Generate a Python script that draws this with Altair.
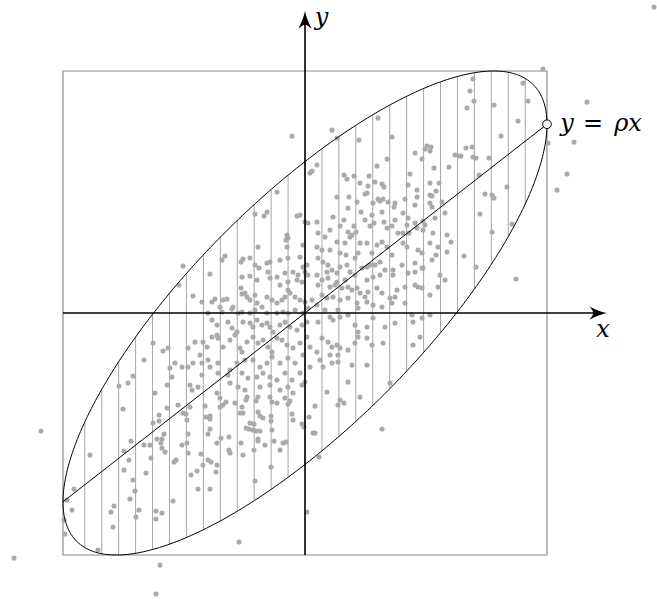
import altair as alt
import numpy as np
import pandas as pd

# Correlation of the bivariate sample and half-width of the framing square
RHO = 0.78
HALF = 2.42
HATCH_STEP = 0.07 * HALF
HATCH_COUNT = 13
ARROW_TIP = 3.02

# Sample points, grouped by area of the plane
north = [
    (0.05, 1.40), (0.07, 1.42), (-0.28, 1.21), (0.27, 1.83), (0.32, 1.75), (0.12, 1.48),
    (0.73, 1.95), (0.54, 1.73), (0.87, 1.76), (0.82, 1.54), (0.72, 1.47), (1.10, 1.60),
    (1.22, 1.67), (1.26, 1.66), (1.25, 1.62), (1.20, 1.64), (1.17, 1.54), (1.29, 1.45),
    (1.44, 1.46), (1.50, 1.58), (1.54, 1.57), (1.05, 1.39), (0.39, 1.38), (0.42, 1.34),
    (0.49, 1.37), (0.64, 1.37), (0.55, 1.30), (0.70, 1.31), (0.63, 1.27), (0.77, 1.29),
    (0.79, 1.26), (1.03, 1.28), (1.12, 1.23), (1.25, 1.30), (1.34, 1.30), (1.31, 1.22),
    (1.25, 1.18), (1.27, 1.17), (0.60, 1.19), (0.62, 1.20), (0.32, 1.16), (0.44, 1.16),
    (0.73, 1.14), (0.78, 1.14), (1.00, 1.14), (1.12, 1.16),
]
north_east = [
    (1.68, 2.34), (2.18, 2.30), (1.65, 2.22), (1.69, 2.12), (2.23, 2.12), (1.62, 2.05),
    (1.89, 2.08), (2.13, 1.92), (1.96, 1.77), (1.61, 1.65), (1.67, 1.66), (1.56, 1.57),
    (1.68, 1.56), (1.71, 1.55), (1.84, 1.55), (1.74, 1.38), (2.02, 1.26), (1.80, 1.19),
    (1.87, 1.18), (1.89, 1.15), (1.75, 0.99), (1.87, 0.81), (2.07, 0.89), (1.59, 0.57),
    (1.71, 0.46),
]
inner_ne = [
    (0.52, 1.11), (0.75, 1.12), (0.83, 1.11), (0.90, 1.10), (0.68, 1.10), (1.10, 1.08),
    (1.25, 1.10), (1.37, 1.11), (1.27, 1.06), (0.89, 1.06), (0.43, 1.05), (0.12, 0.91),
    (0.28, 0.96), (0.56, 1.01), (0.67, 0.98), (0.77, 1.01), (0.98, 1.00), (0.90, 0.93),
    (0.79, 0.91), (0.60, 0.93), (0.39, 0.93), (1.03, 0.95), (1.10, 0.90), (1.18, 0.92),
    (1.30, 0.95), (1.40, 1.00), (0.25, 0.83), (0.35, 0.87), (0.43, 0.81), (0.49, 0.87),
    (0.51, 0.81), (0.65, 0.87), (0.69, 0.90), (0.82, 0.85), (0.87, 0.87), (0.93, 0.80),
    (0.98, 0.80), (1.02, 0.88), (1.04, 0.80), (1.12, 0.85), (1.18, 0.83), (1.20, 0.88),
    (1.42, 0.78), (1.46, 0.71), (1.28, 0.80), (0.13, 0.80), (0.20, 0.76), (0.12, 0.66),
    (0.17, 0.63), (0.25, 0.63), (0.32, 0.71), (0.40, 0.70), (0.45, 0.76), (0.47, 0.78),
    (0.55, 0.70), (0.62, 0.70), (0.72, 0.68), (0.77, 0.71), (0.82, 0.66), (0.98, 0.70),
    (1.02, 0.66), (1.13, 0.63), (1.17, 0.60), (1.25, 0.70), (1.33, 0.66), (1.42, 0.61),
    (0.35, 0.60), (0.41, 0.58), (0.53, 0.60), (0.67, 0.60), (0.50, 0.55), (1.10, 0.50),
    (1.18, 0.45), (1.27, 0.53), (1.31, 0.58), (0.87, 0.58), (0.97, 0.48), (0.13, 0.55),
    (0.18, 0.51), (0.23, 0.48), (0.27, 0.43), (0.32, 0.40), (0.22, 0.41), (0.35, 0.46),
    (0.42, 0.48), (0.45, 0.41), (0.50, 0.38), (0.57, 0.45), (0.62, 0.46), (0.65, 0.48),
    (0.70, 0.48), (0.75, 0.51), (0.80, 0.43), (0.88, 0.43), (0.88, 0.38), (0.75, 0.38),
    (0.68, 0.36), (0.62, 0.33), (0.40, 0.33), (0.32, 0.31), (0.23, 0.35), (0.17, 0.33),
    (0.12, 0.38), (1.03, 0.40), (1.10, 0.41), (1.17, 0.45), (1.35, 0.38), (1.40, 0.33),
    (0.13, 0.28), (0.25, 0.26), (0.30, 0.28), (0.37, 0.25), (0.43, 0.26), (0.47, 0.23),
    (0.52, 0.25), (0.55, 0.20), (0.60, 0.16), (0.63, 0.21), (0.72, 0.25), (0.77, 0.20),
    (0.85, 0.15), (0.90, 0.16), (0.92, 0.23), (1.00, 0.26), (1.10, 0.28), (1.13, 0.26),
    (1.17, 0.25), (1.25, 0.18), (1.33, 0.26), (0.17, 0.18), (0.22, 0.15), (0.28, 0.16),
    (0.35, 0.13), (0.43, 0.15), (0.52, 0.10), (0.62, 0.11), (0.68, 0.08), (0.77, 0.06),
    (0.87, 0.10), (1.00, 0.10), (0.53, 0.05), (0.33, 0.03), (0.20, 0.03), (0.12, 0.08),
]
inner_se = [
    (0.13, -0.09), (0.25, -0.04), (0.28, -0.07), (0.35, -0.04), (0.43, -0.02), (0.50, -0.12),
    (0.53, -0.19), (0.62, -0.14), (0.68, -0.05), (0.80, -0.14), (0.90, -0.10), (1.07, -0.02),
    (1.08, -0.09), (1.17, -0.05), (1.25, -0.02), (1.15, -0.24), (0.17, -0.25), (0.23, -0.29),
    (0.27, -0.34), (0.32, -0.32), (0.35, -0.35), (0.25, -0.42), (0.33, -0.42), (0.43, -0.37),
    (0.50, -0.30), (0.53, -0.24), (0.62, -0.25), (0.67, -0.32), (0.78, -0.30), (1.08, -0.32),
    (0.15, -0.47), (0.18, -0.54), (0.27, -0.50), (0.33, -0.49), (0.47, -0.52), (0.62, -0.52),
    (0.12, -0.39), (0.43, -0.69), (0.85, -0.70), (0.22, -0.79), (0.55, -0.84), (0.35, -0.87),
    (0.10, -0.93), (0.10, -1.20), (0.33, -0.92), (0.39, -0.90), (0.14, -1.44),
]
inner_nw = [
    (-0.50, 0.99), (-0.41, 0.97), (-0.38, 1.01), (-0.08, 0.97), (-0.05, 0.98), (0.00, 0.91),
    (0.03, 0.90), (-0.18, 0.78), (-0.19, 0.73), (-0.17, 0.75), (-0.02, 0.68), (-0.47, 0.66),
    (-0.18, 0.66), (-1.22, 0.47), (-0.83, 0.53), (-0.80, 0.57), (-0.62, 0.54), (-0.64, 0.51),
    (-0.55, 0.55), (-0.50, 0.48), (-0.46, 0.45), (-0.38, 0.50), (-0.35, 0.51), (-0.25, 0.53),
    (-0.17, 0.55), (-0.05, 0.56), (-0.02, 0.46), (0.02, 0.48), (-0.95, 0.39), (-0.63, 0.36),
    (-0.55, 0.37), (-0.48, 0.33), (-0.37, 0.41), (-0.35, 0.35), (-0.28, 0.36), (-0.20, 0.40),
    (-0.12, 0.41), (-0.07, 0.38), (0.00, 0.41), (-0.25, 0.28), (-0.17, 0.31), (-0.08, 0.33),
    (-0.03, 0.31), (0.03, 0.38), (-1.26, 0.28), (-0.64, 0.25), (-0.60, 0.20), (-1.12, 0.17),
    (-1.03, 0.11), (-0.93, 0.11), (-0.90, 0.14), (-0.82, 0.13), (-0.78, 0.14), (-0.85, 0.06),
    (-0.72, 0.06), (-0.63, 0.19), (-0.58, 0.16), (-0.55, 0.13), (-0.50, 0.18), (-0.48, 0.10),
    (-0.43, 0.06), (-0.38, 0.16), (-0.33, 0.13), (-0.28, 0.10), (-0.23, 0.13), (-0.20, 0.16),
    (-0.17, 0.23), (-0.15, 0.20), (-0.10, 0.16), (-0.05, 0.13), (0.00, 0.11), (0.07, 0.13),
    (-0.97, 0.00), (-0.83, 0.01), (-0.73, 0.04), (-0.67, 0.00), (-0.63, 0.01), (-0.55, 0.00),
    (-0.50, 0.03), (-0.38, 0.00), (-0.28, 0.00), (-0.22, 0.01), (-0.17, 0.00), (-0.10, 0.03),
    (-0.02, 0.00), (0.03, 0.05),
]
inner_sw = [
    (-0.93, -0.07), (-0.88, -0.12), (-0.77, -0.09), (-0.73, -0.15), (-0.68, -0.19), (-0.62, -0.09),
    (-0.55, -0.10), (-0.52, -0.14), (-0.48, -0.07), (-0.43, -0.12), (-0.38, -0.10), (-0.35, -0.14),
    (-0.32, -0.19), (-0.25, -0.12), (-0.20, -0.09), (-0.15, -0.14), (-0.08, -0.17), (-0.03, -0.12),
    (0.02, -0.09), (-1.10, -0.29), (-1.02, -0.29), (-0.98, -0.34), (-0.93, -0.24), (-0.88, -0.22),
    (-0.87, -0.25), (-0.82, -0.34), (-0.75, -0.27), (-0.70, -0.22), (-0.65, -0.35), (-0.63, -0.39),
    (-0.58, -0.29), (-0.52, -0.24), (-0.47, -0.30), (-0.42, -0.27), (-0.37, -0.34), (-0.33, -0.39),
    (-0.28, -0.25), (-0.23, -0.27), (-0.18, -0.32), (-0.12, -0.35), (-0.05, -0.30), (0.02, -0.24),
    (0.05, -0.34), (-1.05, -0.42), (-1.17, -0.35), (-1.30, -0.50), (-1.23, -0.54), (-1.17, -0.54),
    (-1.12, -0.50), (-1.03, -0.50), (-0.97, -0.47), (-0.95, -0.54), (-0.87, -0.50), (-0.75, -0.57),
    (-0.68, -0.50), (-0.60, -0.47), (-0.52, -0.47), (-0.45, -0.54), (-0.38, -0.50), (-0.33, -0.44),
    (-0.25, -0.50), (-0.17, -0.45), (-0.10, -0.50), (-0.02, -0.42), (0.05, -0.54), (-1.33, -0.64),
    (-1.03, -0.62), (-0.87, -0.60), (-0.77, -0.62), (-0.63, -0.60), (-0.57, -0.65), (-0.48, -0.64),
    (-0.42, -0.60), (-0.35, -0.64), (-0.28, -0.67), (-0.20, -0.60), (-0.13, -0.67), (-0.05, -0.60),
    (0.00, -0.69), (-1.15, -0.72), (-1.13, -0.77), (-1.07, -0.74), (-0.75, -0.70), (-0.67, -0.74),
    (-0.60, -0.77), (-0.45, -0.74), (-0.35, -0.72), (-0.25, -0.77), (-0.17, -0.74), (-0.03, -0.72),
    (-0.88, -0.80), (-0.85, -0.85), (-0.58, -0.84), (-0.47, -0.84), (-0.35, -0.84), (-0.20, -0.85),
    (-0.12, -0.80),
]
south_west = [
    (-1.52, -0.30), (-1.61, -0.47), (-1.42, -0.38), (-1.37, -0.35), (-1.72, -0.63), (-1.77, -0.70),
    (-1.86, -0.73), (-1.50, -0.80), (-1.38, -0.72), (-1.35, -0.55), (-1.82, -0.96), (-1.38, -0.95),
    (-1.46, -1.02), (-1.52, -1.10), (-1.46, -1.08), (-1.41, -1.21), (-1.48, -1.26), (-1.43, -1.26),
    (-1.44, -1.30), (-1.43, -1.35), (-1.40, -1.39), (-1.61, -1.32), (-1.55, -1.32), (-1.74, -1.28),
    (-1.81, -1.38), (-2.15, -1.42), (-1.76, -1.47), (-1.54, -1.45), (-1.81, -1.57), (-1.59, -1.60),
    (-1.72, -1.67), (-1.70, -1.78), (-1.75, -1.86), (-2.31, -1.76), (-2.38, -1.87), (-2.33, -1.97),
    (-1.91, -1.93), (-1.94, -1.99), (-1.66, -1.97), (-1.69, -2.04), (-1.49, -1.98), (-1.43, -2.00),
    (-1.49, -2.06), (-2.41, -2.07), (-2.40, -2.21), (-1.92, -2.14), (-2.07, -2.37),
    (-1.27, -0.92), (-1.22, -1.00), (-1.19, -1.01), (-1.18, -1.07), (-1.15, -0.94), (-1.00, -0.93),
    (-0.99, -1.04), (-0.95, -1.03), (-0.95, -1.06), (-0.85, -0.94), (-0.82, -0.92), (-0.79, -0.89),
    (-0.70, -0.90), (-0.59, -0.87), (-0.49, -0.88), (-0.63, -0.94), (-0.65, -1.00), (-0.62, -1.00),
    (-0.55, -1.10), (-0.51, -1.11), (-0.59, -1.15), (-0.56, -1.16), (-0.52, -1.17), (-0.49, -1.18),
    (-0.45, -1.18), (-0.47, -0.99), (-0.45, -1.03), (-0.42, -1.05), (-0.33, -0.89), (-0.28, -0.90),
    (-0.34, -1.03), (-0.34, -1.08), (-0.33, -1.17), (-0.17, -0.91), (-0.15, -0.88), (-0.13, -1.01),
    (-0.12, -1.07), (-0.03, -1.11), (-0.01, -1.14), (0.04, -1.04), (0.08, -1.20), (-0.95, -1.16),
    (-0.97, -1.21), (-0.84, -1.25), (-0.76, -1.24), (-0.64, -1.30), (-0.47, -1.26), (-0.47, -1.28),
    (-0.40, -1.32), (-0.31, -1.28), (-0.19, -1.29), (-0.22, -1.30), (-0.25, -1.37), (-0.51, -1.37),
    (-0.76, -1.37), (-0.75, -1.40), (-0.62, -1.42), (-0.88, -1.30), (-1.17, -1.21), (-1.18, -1.30),
    (-1.23, -1.32), (-1.17, -1.40), (-1.04, -1.41), (-0.97, -1.47), (-0.94, -1.49), (-0.88, -1.52),
    (-0.89, -1.59), (-1.02, -1.52), (-1.08, -1.58), (-1.14, -1.62), (-1.29, -1.47), (-1.31, -1.49),
    (-0.34, -1.54), (-0.50, -1.68), (-1.07, -1.76), (-0.95, -1.76), (-1.32, -1.88), (0.02, -1.99),
]
strays = [
    (-0.13, 1.77), (2.38, 2.44), (2.82, 2.11), (2.43, 1.70), (2.69, 1.71), (2.62, 1.39),
    (2.52, 1.23), (2.11, 0.34), (-2.64, -1.18), (-2.91, -2.45), (-1.45, -2.52), (-1.49, -2.81),
    (-0.66, -2.29), (0.77, -1.16), (3.49, 3.06),
]

groups = [north, north_east, inner_ne, inner_se, inner_nw, inner_sw, south_west, strays]
points = pd.DataFrame([p for g in groups for p in g], columns=["x", "y"])

# Contour x^2 - 2*rho*x*y + y^2 = HALF^2 (1 - rho^2), tangent to the square
t = np.linspace(0, 2 * np.pi, 361)
ellipse = pd.DataFrame({
    "t": t,
    "x": HALF * np.cos(t),
    "y": HALF * (RHO * np.cos(t) + np.sqrt(1 - RHO**2) * np.sin(t)),
})

# Vertical hatching between the lower and upper halves of the contour
hx = HATCH_STEP * np.arange(-HATCH_COUNT, HATCH_COUNT + 1)
half_span = np.sqrt((1 - RHO**2) * (HALF**2 - hx**2))
hatch = pd.DataFrame({"x": hx, "lo": RHO * hx - half_span, "hi": RHO * hx + half_span})

square = pd.DataFrame({"x0": [-HALF], "x1": [HALF], "y0": [-HALF], "y1": [HALF]})
reg_line = pd.DataFrame({"x": [-HALF, HALF], "y": [-RHO * HALF, RHO * HALF]})
marker = pd.DataFrame({"x": [HALF], "y": [RHO * HALF]})

xs = alt.Scale(domain=[-3.05, 3.52], nice=False, zero=False)
ys = alt.Scale(domain=[-2.86, 3.13], nice=False, zero=False)


def X(field):
    return alt.X(f"{field}:Q", scale=xs, axis=None)


def Y(field):
    return alt.Y(f"{field}:Q", scale=ys, axis=None)


frame = alt.Chart(square).mark_rect(filled=False, stroke="#8c8c8c", strokeWidth=1.2).encode(
    x=X("x0"), x2="x1", y=Y("y0"), y2="y1"
)

hatching = alt.Chart(hatch).mark_rule(color="#a6a6a6", strokeWidth=1).encode(
    x=X("x"), y=Y("lo"), y2="hi"
)

scatter = alt.Chart(points).mark_circle(size=26, color="#aaaaaa", opacity=1).encode(
    x=X("x"), y=Y("y")
)

contour = alt.Chart(ellipse).mark_line(color="black", strokeWidth=1).encode(
    x=X("x"), y=Y("y"), order="t:Q"
)

regression = alt.Chart(reg_line).mark_line(color="black", strokeWidth=1).encode(
    x=X("x"), y=Y("y")
)

# Coordinate axes with stealth arrowheads
ARROW = ("M0,-1 C0.1,-0.45 0.4,0.35 0.75,1 C0.4,0.72 0.2,0.55 0,0.55 "
         "C-0.2,0.55 -0.4,0.72 -0.75,1 C-0.4,0.35 -0.1,-0.45 0,-1 Z")
head = ARROW_TIP - 0.088
axes_df = pd.DataFrame({
    "x": [-HALF, 0.0], "x2": [head, 0.0],
    "y": [0.0, -HALF], "y2": [0.0, head],
})
axis_lines = alt.Chart(axes_df).mark_rule(color="black", strokeWidth=1.6).encode(
    x=X("x"), x2="x2", y=Y("y"), y2="y2"
)
x_head = alt.Chart(pd.DataFrame({"x": [head], "y": [0.0]})).mark_point(
    shape=ARROW, size=310, filled=True, color="black", opacity=1, angle=90
).encode(x=X("x"), y=Y("y"))
y_head = alt.Chart(pd.DataFrame({"x": [0.0], "y": [head]})).mark_point(
    shape=ARROW, size=310, filled=True, color="black", opacity=1
).encode(x=X("x"), y=Y("y"))

end_marker = alt.Chart(marker).mark_point(
    shape="circle", size=75, filled=True, fill="white", stroke="black", strokeWidth=1, opacity=1
).encode(x=X("x"), y=Y("y"))

serif = dict(font="DejaVu Serif", fontStyle="italic", fontSize=24, color="black")

x_label = alt.Chart(pd.DataFrame({"x": [2.98], "y": [-0.235], "t": ["x"]})).mark_text(
    align="center", baseline="alphabetic", **serif
).encode(x=X("x"), y=Y("y"), text="t:N")
y_label = alt.Chart(pd.DataFrame({"x": [0.165], "y": [2.88], "t": ["y"]})).mark_text(
    align="center", baseline="alphabetic", **serif
).encode(x=X("x"), y=Y("y"), text="t:N")

eq_y = alt.Chart(marker.assign(t="y")).mark_text(
    align="center", baseline="alphabetic", dx=20, dy=7, **serif
).encode(x=X("x"), y=Y("y"), text="t:N")
eq_sign = alt.Chart(marker.assign(t="=")).mark_text(
    align="center", baseline="alphabetic", dx=46, dy=7,
    font="DejaVu Serif", fontSize=24, color="black"
).encode(x=X("x"), y=Y("y"), text="t:N")
eq_rhs = alt.Chart(marker.assign(t="ρx")).mark_text(
    align="center", baseline="alphabetic", dx=81, dy=7, **serif
).encode(x=X("x"), y=Y("y"), text="t:N")

chart = alt.layer(
    frame, hatching, scatter, contour, regression, axis_lines, x_head, y_head,
    end_marker, x_label, y_label, eq_y, eq_sign, eq_rhs
).properties(
    width=657, height=599, padding=0, autosize="none", background="white"
).configure_view(strokeWidth=0)

chart.save("out.html", embed_options={"renderer": "svg", "actions": False})
